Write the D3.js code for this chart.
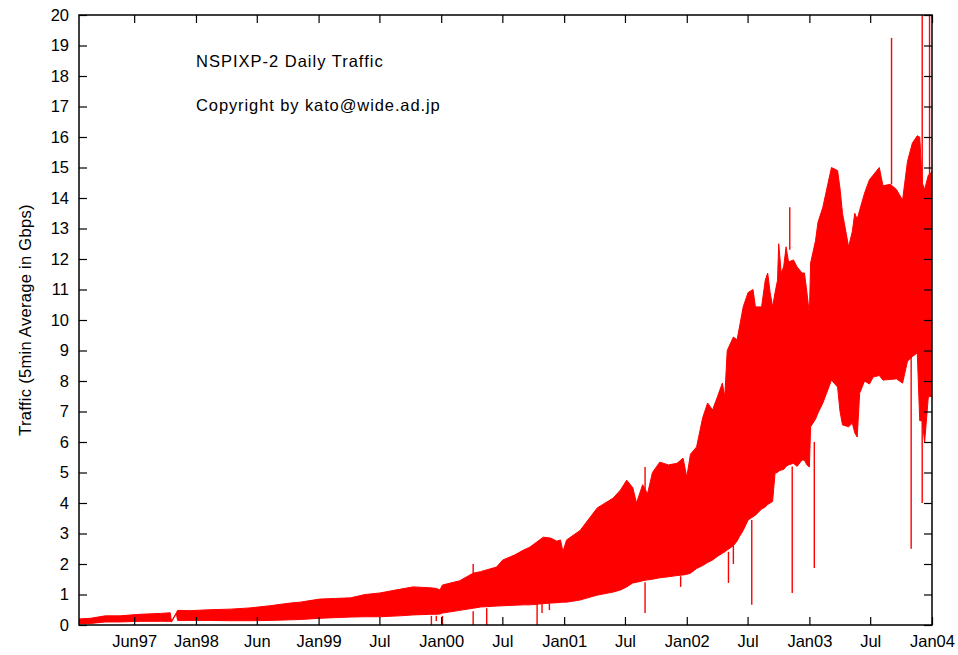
<!DOCTYPE html>
<html>
<head>
<meta charset="utf-8">
<script src="https://cdn.jsdelivr.net/npm/d3@7"></script>
<style>
  html, body { margin: 0; padding: 0; background: #fff; }
  svg { display: block; }
  text { font-family: "Liberation Sans", Arial, Helvetica, sans-serif; fill: #000; }
</style>
</head>
<body>
<svg id="chart" width="958" height="655"></svg>
<script>
// ---- data ----
// sample dates as decimal years
const dates = [
  1997.05, 1997.14, 1997.26, 1997.38, 1997.54, 1997.71, 1997.79, 1997.80, 1997.84, 1997.85,
  1997.95, 1998.11, 1998.28, 1998.44, 1998.60, 1998.77, 1998.85, 1998.93, 1999.01, 1999.13,
  1999.26, 1999.38, 1999.50, 1999.66, 1999.77, 1999.91, 1999.96, 1999.99, 2000.01, 2000.15,
  2000.26, 2000.32, 2000.45, 2000.50, 2000.60, 2000.67, 2000.72, 2000.83, 2000.89, 2000.94,
  2000.97, 2000.99, 2001.02, 2001.13, 2001.27, 2001.40, 2001.46, 2001.51, 2001.56, 2001.59,
  2001.64, 2001.68, 2001.72, 2001.78, 2001.85, 2001.92, 2001.97, 2002.00, 2002.03, 2002.08,
  2002.13, 2002.17, 2002.21, 2002.25, 2002.29, 2002.31, 2002.33, 2002.38, 2002.41, 2002.43,
  2002.46, 2002.50, 2002.54, 2002.56, 2002.61, 2002.64, 2002.66, 2002.68, 2002.70, 2002.72,
  2002.74, 2002.75, 2002.77, 2002.79, 2002.81, 2002.83, 2002.87, 2002.90, 2002.94, 2002.96,
  2002.98, 2003.00, 2003.01, 2003.05, 2003.07, 2003.11, 2003.14, 2003.18, 2003.23, 2003.25,
  2003.27, 2003.32, 2003.35, 2003.37, 2003.39, 2003.41, 2003.45, 2003.49, 2003.52, 2003.57,
  2003.60, 2003.66, 2003.71, 2003.76, 2003.80, 2003.84, 2003.88, 2003.90, 2003.92, 2003.94,
  2003.97, 2004.00
];
// daily maximum of the 5-min average (Gbps)
const highGbps = [
  0.20, 0.22, 0.30, 0.30, 0.35, 0.38, 0.40, 0.12, 0.40, 0.48,
  0.47, 0.50, 0.52, 0.56, 0.63, 0.72, 0.75, 0.80, 0.85, 0.87,
  0.89, 1.00, 1.05, 1.17, 1.25, 1.22, 1.20, 1.15, 1.31, 1.45,
  1.70, 1.75, 1.90, 2.13, 2.30, 2.46, 2.55, 2.88, 2.85, 2.75,
  2.79, 2.40, 2.79, 3.10, 3.84, 4.16, 4.43, 4.75, 4.50, 4.00,
  4.60, 4.30, 5.00, 5.34, 5.25, 5.30, 5.47, 4.85, 5.60, 5.84,
  6.80, 7.28, 7.05, 7.48, 7.93, 7.48, 9.00, 9.44, 9.35, 9.77,
  10.43, 10.90, 11.00, 10.43, 10.43, 11.30, 11.54, 10.90, 10.43, 10.90,
  11.30, 12.50, 11.54, 11.74, 12.40, 11.90, 11.97, 11.74, 11.54, 11.54,
  10.90, 10.20, 11.87, 12.60, 13.20, 13.70, 14.26, 15.00, 14.90, 14.30,
  13.50, 12.40, 12.90, 13.50, 13.30, 13.60, 14.16, 14.60, 14.75, 15.00,
  14.40, 14.45, 14.28, 13.93, 15.20, 15.80, 16.04, 16.00, 14.50, 14.28,
  14.75, 14.86
];
// daily minimum of the 5-min average (Gbps)
const lowGbps = [
  0.05, 0.05, 0.10, 0.10, 0.12, 0.12, 0.12, 0.10, 0.37, 0.15,
  0.15, 0.15, 0.14, 0.14, 0.15, 0.17, 0.18, 0.20, 0.22, 0.24,
  0.26, 0.27, 0.27, 0.30, 0.33, 0.35, 0.35, 0.36, 0.39, 0.48,
  0.55, 0.59, 0.62, 0.63, 0.65, 0.66, 0.66, 0.70, 0.72, 0.73,
  0.74, 0.75, 0.75, 0.82, 0.98, 1.08, 1.15, 1.25, 1.38, 1.40,
  1.45, 1.48, 1.50, 1.55, 1.58, 1.62, 1.64, 1.66, 1.70, 1.85,
  1.95, 2.05, 2.13, 2.25, 2.35, 2.40, 2.46, 2.60, 2.75, 2.90,
  3.10, 3.44, 3.55, 3.60, 3.80, 3.87, 3.95, 4.00, 4.05, 4.98,
  5.00, 5.05, 5.08, 5.10, 5.20, 5.25, 5.30, 5.20, 5.41, 5.40,
  5.25, 5.18, 6.50, 6.75, 6.95, 7.28, 7.60, 8.03, 7.80, 7.00,
  6.56, 6.50, 6.62, 6.30, 6.16, 7.60, 8.00, 7.90, 8.13, 8.18,
  8.03, 8.05, 8.07, 7.93, 8.65, 8.80, 8.92, 6.70, 6.70, 6.00,
  7.48, 7.50
];
// isolated 5-min outliers drawn as single vertical strokes
const spikeDates = [1999.92, 1999.96, 2000.01, 2000.26, 2000.37, 2000.78, 2000.82, 2000.88,
                    2001.66, 2001.95, 2002.34, 2002.38, 2002.53, 2002.86, 2003.04, 2003.83, 2003.92,
                    2000.26, 2001.66, 2002.84, 2003.67, 2003.92, 2003.98];
const spikeFrom  = [0.30, 0.30, 0.30, 0.45, 0.55, 0.73, 0.73, 0.74,
                    1.40, 1.60, 2.40, 2.60, 3.44, 5.20, 6.00, 8.80, 6.70,
                    1.57, 4.40, 12.30, 14.45, 14.50, 14.75];
const spikeTo    = [0.00, 0.13, 0.00, 0.00, 0.00, 0.00, 0.39, 0.49,
                    0.39, 1.25, 1.38, 2.00, 0.66, 1.05, 1.87, 2.50, 4.00,
                    2.00, 5.18, 13.70, 19.25, 20.00, 20.00];

const startYear = 1997.046;
const endYear = 2004.0;
const xTickDates  = ["1997-07-01","1998-01-01","1998-07-01","1999-01-01","1999-07-01","2000-01-01","2000-07-01",
                     "2001-01-01","2001-07-01","2002-01-01","2002-07-01","2003-01-01","2003-07-01","2004-01-01"];
const xTickLabels = ["Jun97","Jan98","Jun","Jan99","Jul","Jan00","Jul","Jan01","Jul","Jan02","Jul","Jan03","Jul","Jan04"];
const yTicks = [0,1,2,3,4,5,6,7,8,9,10,11,12,13,14,15,16,17,18,19,20];
const titleText = "NSPIXP-2 Daily Traffic";
const copyrightText = "Copyright by kato@wide.ad.jp";
const yAxisTitle = "Traffic (5min Average in Gbps)";

// ---- helpers ----
function decToDate(d) {
  const y = Math.floor(d);
  const a = Date.UTC(y, 0, 1), b = Date.UTC(y + 1, 0, 1);
  return new Date(a + (d - y) * (b - a));
}

// ---- layout ----
const W = 958, H = 655;
const margin = {left: 79, right: 26, top: 15, bottom: 30};
const iw = W - margin.left - margin.right;
const ih = H - margin.top - margin.bottom;

const svg = d3.select("#chart");
const g = svg.append("g").attr("transform", `translate(${margin.left},${margin.top})`);

const x = d3.scaleUtc().domain([decToDate(startYear), decToDate(endYear)]).range([0, iw]);
const y = d3.scaleLinear().domain([0, 20]).range([ih, 0]);

svg.append("defs").append("clipPath").attr("id", "clip")
  .append("rect").attr("x", 0).attr("y", 0).attr("width", iw).attr("height", ih);

const rows = dates.map((d, i) => ({t: decToDate(d), hi: highGbps[i], lo: lowGbps[i]}));

const plot = g.append("g").attr("clip-path", "url(#clip)");

const area = d3.area()
  .x(d => x(d.t))
  .y0(d => y(d.lo))
  .y1(d => y(d.hi))
  .curve(d3.curveLinear);

plot.append("path")
  .datum(rows)
  .attr("d", area)
  .attr("fill", "#ff0000")
  .attr("stroke", "#ff0000")
  .attr("stroke-width", 1);

plot.selectAll("line.spike")
  .data(spikeDates.map((d, i) => ({t: decToDate(d), a: spikeFrom[i], b: spikeTo[i]})))
  .join("line")
  .attr("class", "spike")
  .attr("x1", d => x(d.t)).attr("x2", d => x(d.t))
  .attr("y1", d => y(d.a)).attr("y2", d => y(d.b))
  .attr("stroke", "#ff0000")
  .attr("stroke-width", 1.4);

// ---- axes ----
const tickLen = 8;
const tickDatesParsed = xTickDates.map(s => new Date(s + "T00:00:00Z"));

const xAxis = d3.axisBottom(x)
  .tickValues(tickDatesParsed)
  .tickFormat((d, i) => xTickLabels[i])
  .tickSizeInner(-tickLen).tickSizeOuter(0).tickPadding(10);
const xAxisTop = d3.axisTop(x)
  .tickValues(tickDatesParsed)
  .tickFormat("")
  .tickSizeInner(-tickLen).tickSizeOuter(0);
const yAxis = d3.axisLeft(y)
  .tickValues(yTicks)
  .tickFormat(d3.format("d"))
  .tickSizeInner(-tickLen).tickSizeOuter(0).tickPadding(10);
const yAxisRight = d3.axisRight(y)
  .tickValues(yTicks)
  .tickFormat("")
  .tickSizeInner(-tickLen).tickSizeOuter(0);

function style(sel) {
  sel.select(".domain").remove();
  sel.selectAll(".tick line").attr("stroke", "#000").attr("stroke-width", 1.2);
  sel.selectAll(".tick text")
    .attr("font-family", '"Liberation Sans", Arial, sans-serif')
    .attr("font-size", 16.5)
    .attr("fill", "#000");
}

g.append("g").attr("transform", `translate(0,${ih})`).call(xAxis).call(style);
g.append("g").call(xAxisTop).call(style);
g.append("g").call(yAxis).call(style);
g.append("g").attr("transform", `translate(${iw},0)`).call(yAxisRight).call(style);

// frame
g.append("rect")
  .attr("x", 0).attr("y", 0).attr("width", iw).attr("height", ih)
  .attr("fill", "none").attr("stroke", "#000").attr("stroke-width", 1.5);

// ---- texts ----
svg.append("text")
  .attr("x", 196).attr("y", 67)
  .attr("font-size", 16.5).attr("letter-spacing", 1)
  .text(titleText);
svg.append("text")
  .attr("x", 196).attr("y", 111)
  .attr("font-size", 16.5).attr("letter-spacing", 0.9)
  .text(copyrightText);
svg.append("text")
  .attr("transform", `translate(31,${margin.top + ih / 2}) rotate(-90)`)
  .attr("text-anchor", "middle")
  .attr("font-size", 16.5).attr("letter-spacing", 0.3)
  .text(yAxisTitle);
</script>
</body>
</html>
